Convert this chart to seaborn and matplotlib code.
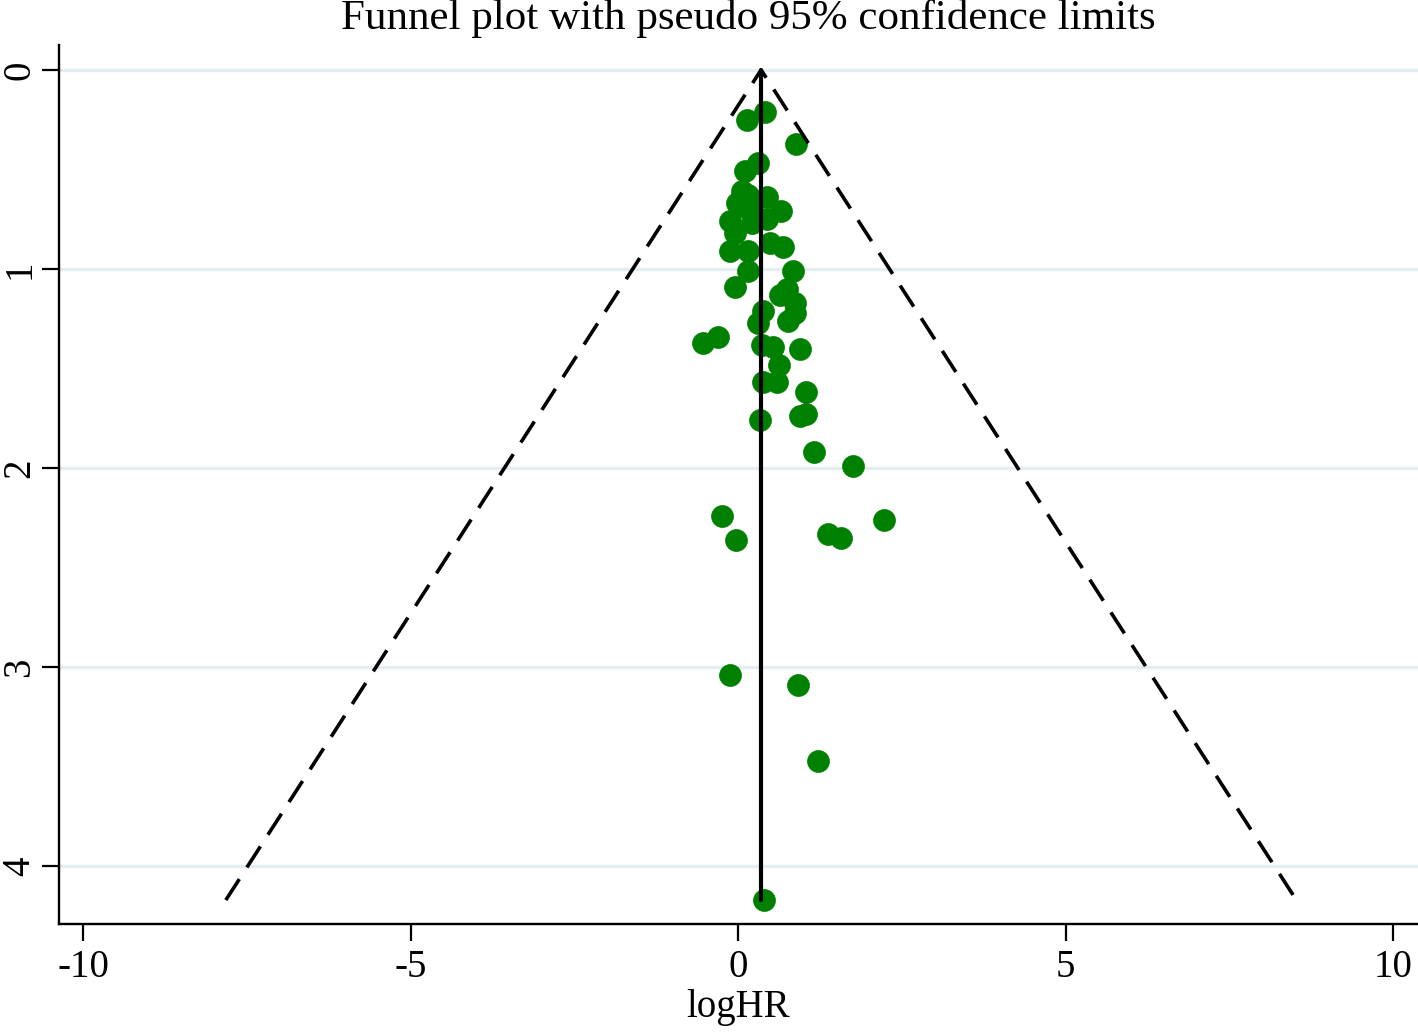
import matplotlib
matplotlib.use("Agg")
import matplotlib.pyplot as plt
import seaborn as sns
import numpy as np
import pandas as pd

# ---- data ----
loghr = [0.41, 0.14, 0.89, 0.31, 0.11, 0.06, 0.15, 0.44, -0.02, 0.11,
         0.21, 0.66, -0.12, 0.21, 0.44, -0.05, 0.49, 0.69, -0.12, 0.15,
         0.15, 0.84, -0.05, 0.64, 0.75, 0.87, 0.38, 0.31, 0.76, 0.87,
         -0.53, -0.31, 0.37, 0.53, 0.95, 0.63, 0.38, 0.60, 1.04, 0.95,
         1.04, 0.34, 1.16, 1.76, -0.24, -0.03, 1.37, 1.57, 2.23, -0.12,
         0.92, 1.22, 0.40]
se = [0.21, 0.25, 0.37, 0.47, 0.51, 0.61, 0.63, 0.64, 0.67, 0.69,
      0.70, 0.71, 0.76, 0.77, 0.75, 0.82, 0.87, 0.89, 0.91, 0.91,
      1.01, 1.01, 1.09, 1.13, 1.10, 1.17, 1.21, 1.27, 1.26, 1.22,
      1.37, 1.34, 1.38, 1.39, 1.40, 1.48, 1.57, 1.57, 1.62, 1.74,
      1.73, 1.76, 1.92, 1.99, 2.24, 2.36, 2.33, 2.35, 2.26, 3.04,
      3.09, 3.47, 4.17]
pooled = 0.35
se_max = 4.17
z = 1.96

x_ticks = [-10, -5, 0, 5, 10]
y_ticks = [0, 1, 2, 3, 4]
title = "Funnel plot with pseudo 95% confidence limits"
xlabel = "logHR"

df = pd.DataFrame({"logHR": loghr, "se": se})

sns.set_theme(style="white")
plt.rcParams["font.family"] = ["Liberation Serif", "DejaVu Serif"]
plt.rcParams["lines.scale_dashes"] = False
plt.rcParams["text.color"] = "black"
plt.rcParams["axes.labelcolor"] = "black"
plt.rcParams["xtick.color"] = "black"
plt.rcParams["ytick.color"] = "black"

fig = plt.figure(figsize=(14.18, 10.32), dpi=100)
ax = fig.add_axes([59/1418, 108/1032, 1 - 59/1418, (924 - 45)/1032])

for t in y_ticks:
    ax.axhline(t, color="#e4eef0", lw=2.4, zorder=0)

sns.scatterplot(data=df, x="logHR", y="se", ax=ax, color="#008000",
                edgecolor="#008000", s=250, linewidth=0.5, zorder=2,
                legend=False)

# funnel limits
ax.plot([pooled - z * se_max, pooled, pooled + z * se_max],
        [se_max, 0, se_max], color="black", lw=2.6,
        dashes=(18, 10), zorder=3)
ax.plot([pooled, pooled], [0, se_max], color="black", lw=3.0, zorder=3)

ax.set_xlim(-10.37, 10.38)
ax.set_ylim(4.29, -0.125)
ax.set_xticks(x_ticks)
ax.set_yticks(y_ticks)
ax.set_xticklabels([str(v) for v in x_ticks], fontsize=28)
ax.set_yticklabels([str(v) for v in y_ticks], fontsize=28, rotation=90,
                   va="center")
ax.tick_params(axis="x", direction="out", length=12, width=1.6,
               color="black", labelcolor="black", pad=6, bottom=True)
ax.tick_params(axis="y", direction="out", length=12, width=1.6,
               color="black", labelcolor="black", pad=3, left=True)

for side in ["top", "right"]:
    ax.spines[side].set_visible(False)
for side in ["left", "bottom"]:
    ax.spines[side].set_color("black")
    ax.spines[side].set_linewidth(1.7)

ax.set_xlabel(xlabel, fontsize=28, labelpad=2, color="black")
ax.set_ylabel("")
ax.grid(False)
fig.text(748/1418, 1 - 18/1032, title, ha="center", va="center",
         fontsize=31, color="black")

fig.savefig("out.png", dpi=100)
